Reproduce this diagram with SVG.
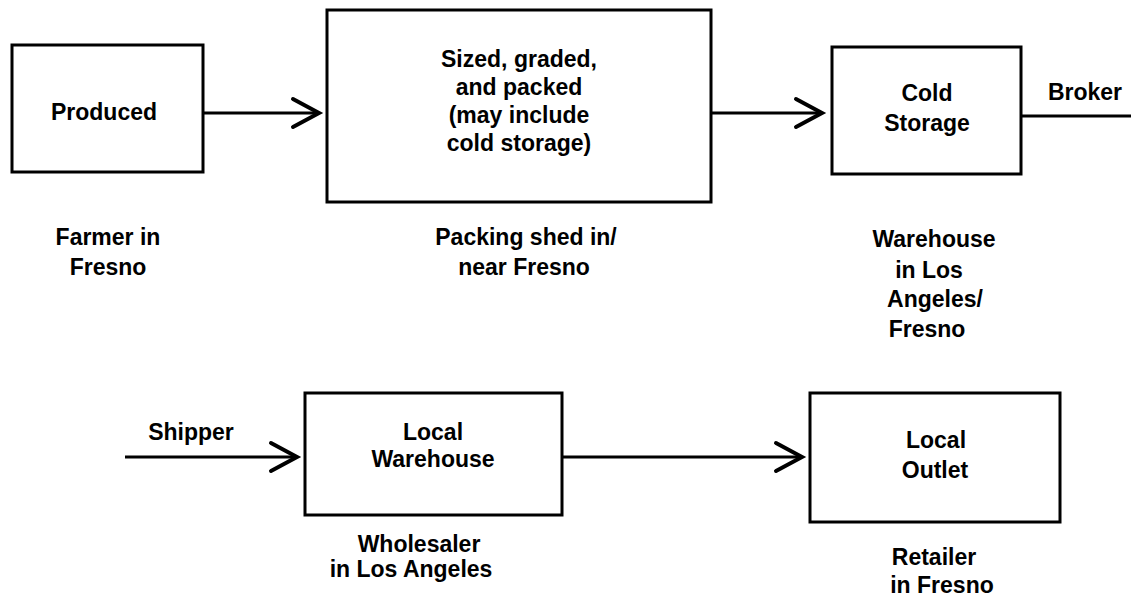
<svg xmlns="http://www.w3.org/2000/svg" width="1131" height="602" viewBox="0 0 1131 602">
<style>
.box{fill:#fff;stroke:#000;stroke-width:3}
.t{font-family:"Liberation Sans",Arial,sans-serif;font-weight:bold;font-size:23px;fill:#000;text-anchor:middle}
.c{fill:none;stroke:#000;stroke-width:3}
</style>
<defs>
<marker id="ah" markerUnits="userSpaceOnUse" markerWidth="40" markerHeight="40" refX="0" refY="0" viewBox="-30 -20 40 40" orient="auto" overflow="visible">
<path d="M -26 -14 L 0 0 L -26 14" fill="none" stroke="#000" stroke-width="4" stroke-linecap="round" stroke-linejoin="miter"/>
</marker>
</defs>
<rect width="1131" height="602" fill="#fff"/>
<g id="connectors">
<line class="c" x1="203" y1="113" x2="319" y2="113" marker-end="url(#ah)"/>
<line class="c" x1="711" y1="113" x2="822" y2="113" marker-end="url(#ah)"/>
<line class="c" x1="1021" y1="116" x2="1131" y2="116"/>
<line class="c" x1="125" y1="457" x2="297" y2="457" marker-end="url(#ah)"/>
<line class="c" x1="562" y1="457" x2="802" y2="457" marker-end="url(#ah)"/>
<text class="t" x="1085" y="100">Broker</text>
<text class="t" x="191" y="440">Shipper</text>
</g>
<g id="produced">
<rect class="box" x="12" y="45" width="191" height="127"/>
<text class="t" x="104" y="120">Produced</text>
<text class="t" x="108" y="245">Farmer in</text>
<text class="t" x="108" y="275">Fresno</text>
</g>
<g id="packing">
<rect class="box" x="327" y="10" width="384" height="192"/>
<text class="t" x="519" y="67">Sized, graded,</text>
<text class="t" x="519" y="95">and packed</text>
<text class="t" x="519" y="123">(may include</text>
<text class="t" x="519" y="151">cold storage)</text>
<text class="t" x="526" y="245">Packing shed in/</text>
<text class="t" x="524" y="275">near Fresno</text>
</g>
<g id="coldstorage">
<rect class="box" x="832" y="47" width="189" height="127"/>
<text class="t" x="927" y="101">Cold</text>
<text class="t" x="927" y="131">Storage</text>
<text class="t" x="934" y="247">Warehouse</text>
<text class="t" x="929" y="278">in Los</text>
<text class="t" x="935" y="307">Angeles/</text>
<text class="t" x="927" y="337">Fresno</text>
</g>
<g id="localwarehouse">
<rect class="box" x="305" y="393" width="257" height="122"/>
<text class="t" x="433" y="440">Local</text>
<text class="t" x="433" y="467">Warehouse</text>
<text class="t" x="419" y="552">Wholesaler</text>
<text class="t" x="411" y="577">in Los Angeles</text>
</g>
<g id="localoutlet">
<rect class="box" x="810" y="393" width="250" height="129"/>
<text class="t" x="936" y="448">Local</text>
<text class="t" x="935" y="478">Outlet</text>
<text class="t" x="934" y="565">Retailer</text>
<text class="t" x="942" y="593">in Fresno</text>
</g>
</svg>
